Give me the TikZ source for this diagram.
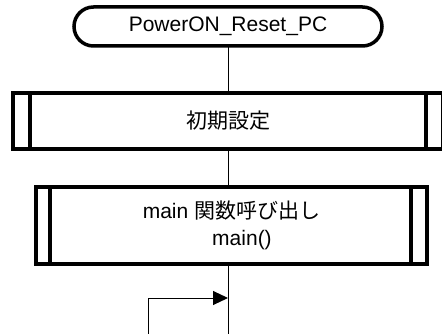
\documentclass[tikz,border=0pt]{standalone}
\usepackage{fontspec}
\setmainfont{Liberation Sans}
\newfontfamily\cjk{Noto Sans CJK JP}
\usetikzlibrary{arrows.meta}
\begin{document}
\begin{tikzpicture}[x=1pt,y=-1pt,
  terminal/.style={draw,line width=3.5pt,rounded corners=19.5pt,minimum width=308pt,minimum height=39pt,inner sep=0pt,outer sep=0pt,font=\fontsize{21}{27}\selectfont},
  subproc/.style={draw,line width=4.5pt,inner sep=0pt,outer sep=0pt,align=center,font=\fontsize{21}{27}\selectfont},
  bar/.style={line width=4.5pt},
  conn/.style={line width=1pt},
]
\useasboundingbox (0,0) rectangle (442,334);
\node[terminal] (start) at (228,26.5) {PowerON\_Reset\_PC};
\node[subproc,minimum width=430pt,minimum height=56pt] (init) at (228,121) {{\cjk 初期設定}};
\draw[bar] ([xshift=17pt]init.north west) -- ([xshift=17pt]init.south west);
\draw[bar] ([xshift=-17pt]init.north east) -- ([xshift=-17pt]init.south east);
\node[subproc,minimum width=391pt,minimum height=77pt] (callmain) at (231.5,225.5) {main {\cjk 関数呼び出し}\\\hspace*{21pt}main()};
\draw[bar] ([xshift=14pt]callmain.north west) -- ([xshift=14pt]callmain.south west);
\draw[bar] ([xshift=-16pt]callmain.north east) -- ([xshift=-16pt]callmain.south east);
\coordinate (down) at (228,334);
\coordinate (join) at (228,298);
\coordinate (loopbot) at (148,334);
\coordinate (loopcorner) at (148,298);
\draw[conn] (start.south) -- (init.north);
\draw[conn] (init.south) -- (callmain.north -| init.south);
\draw[conn] (callmain.south -| init.south) -- (down);
\draw[conn,-{Triangle[length=15pt,width=14pt]}] (loopbot) -- (loopcorner) -- (join);
\end{tikzpicture}
\end{document}
